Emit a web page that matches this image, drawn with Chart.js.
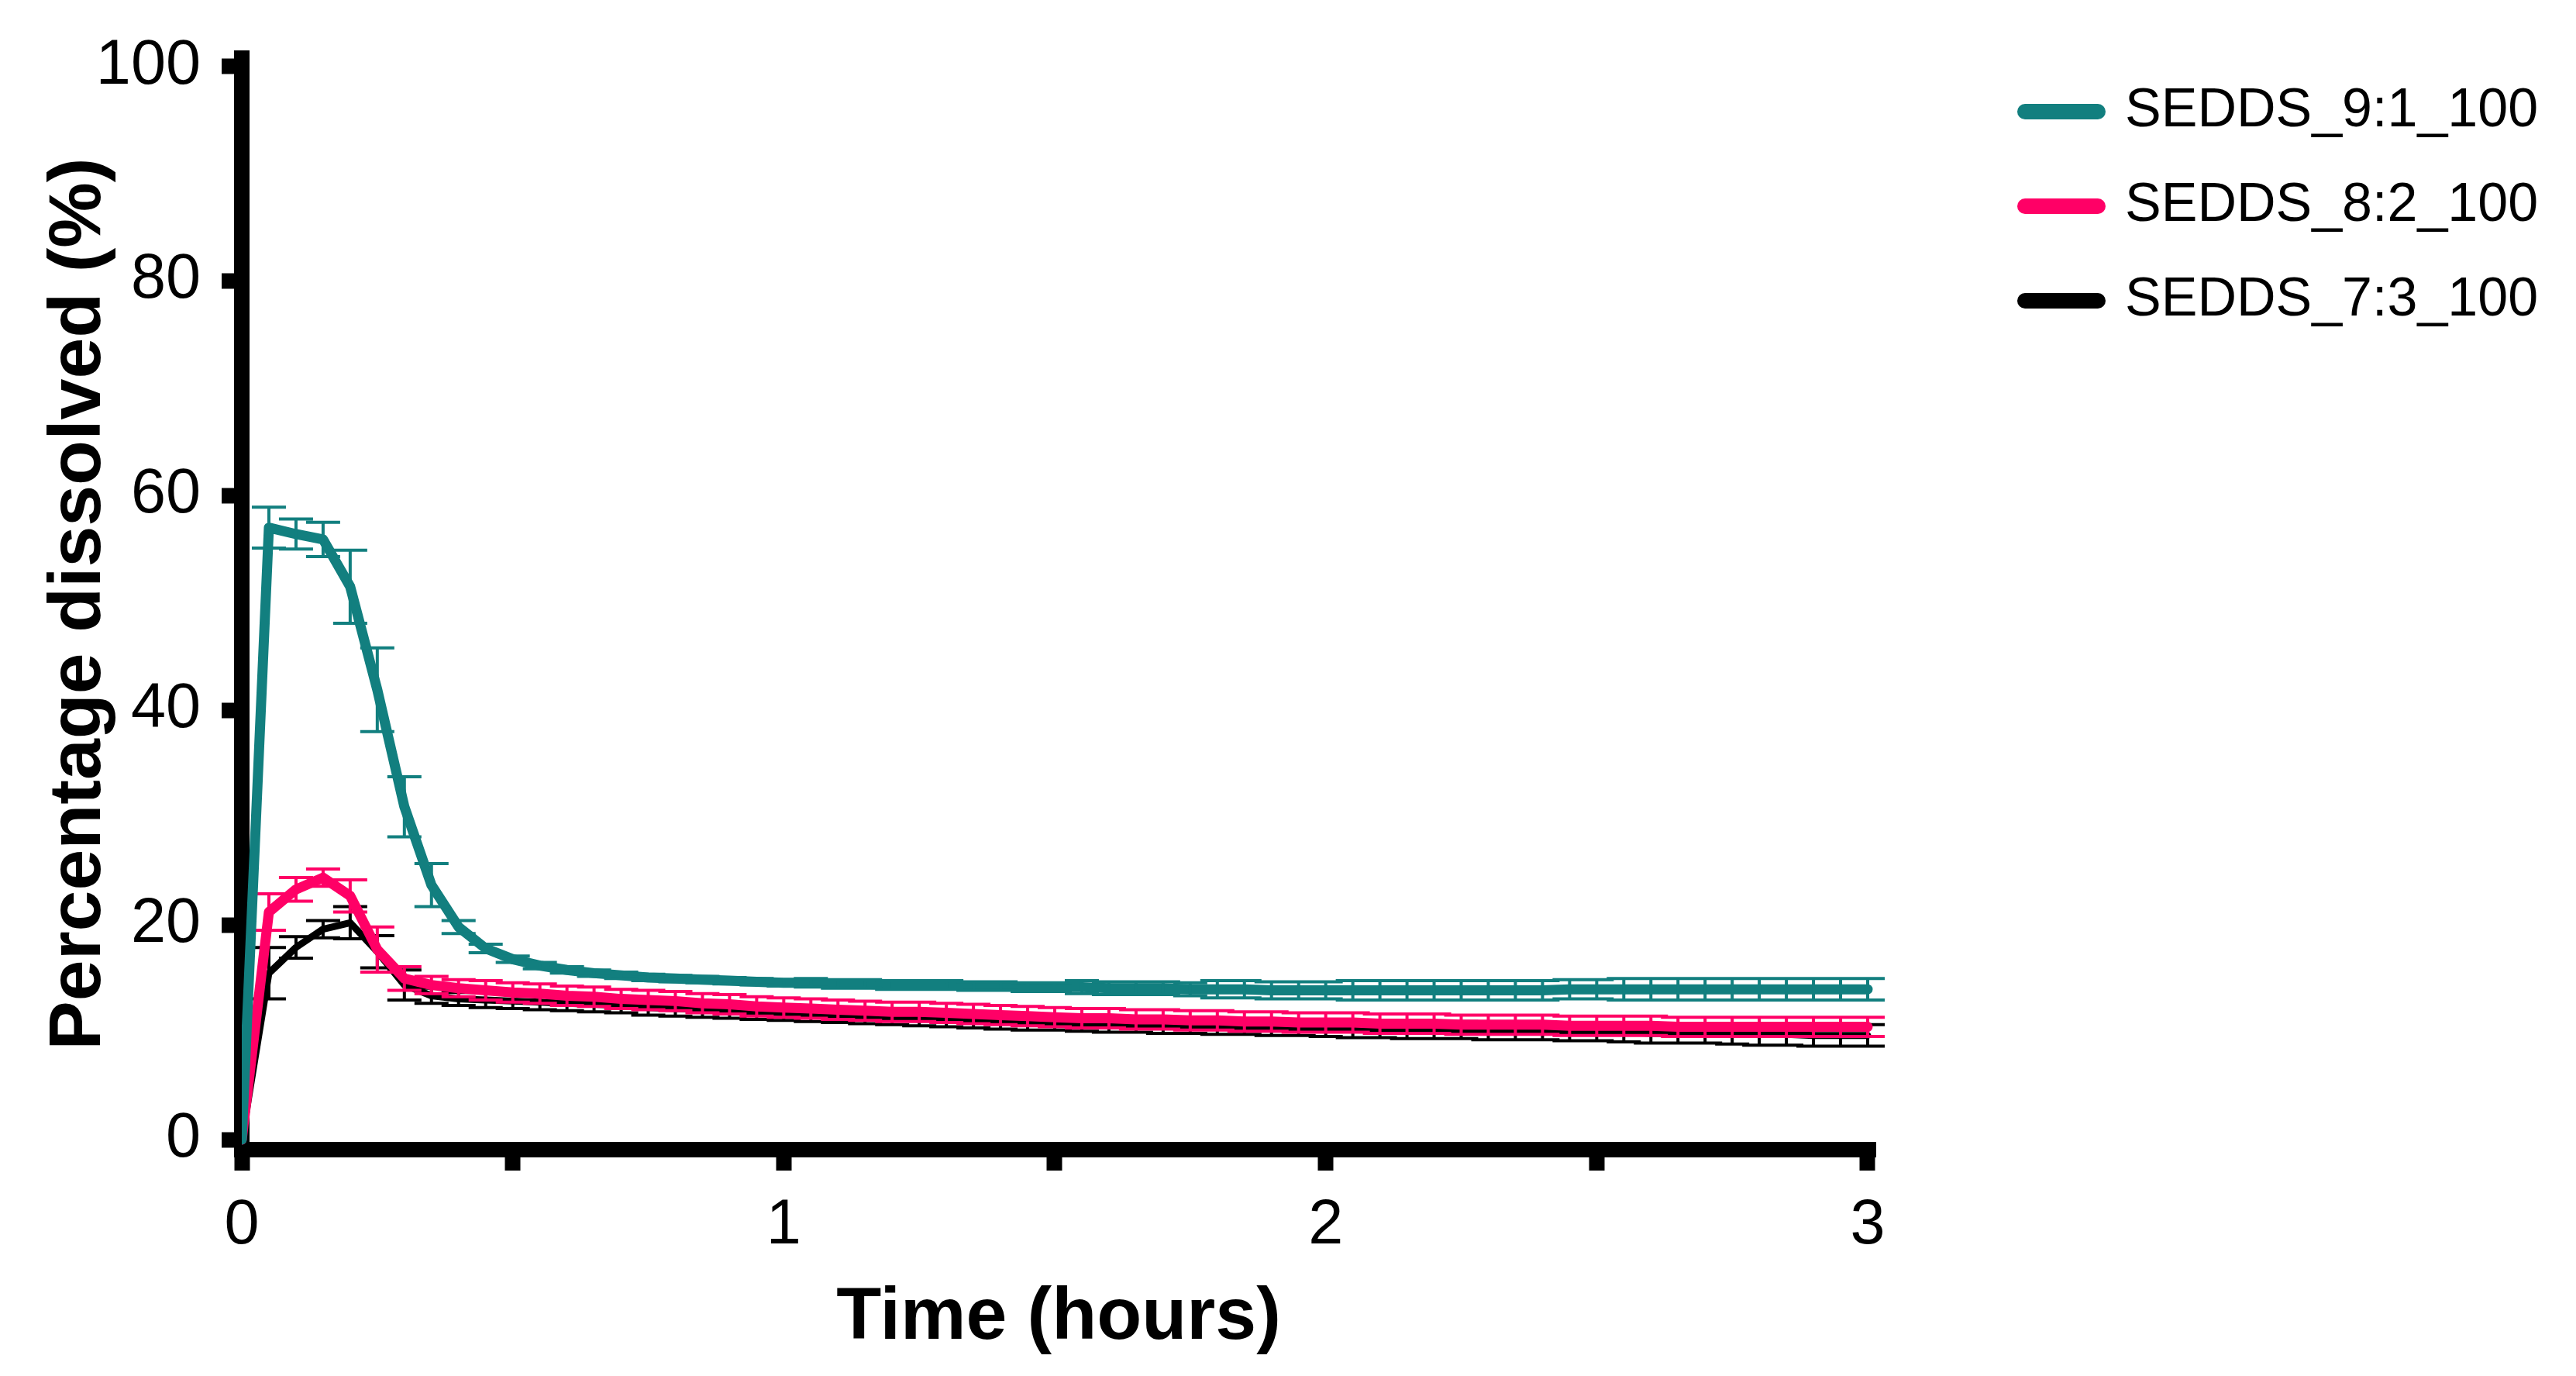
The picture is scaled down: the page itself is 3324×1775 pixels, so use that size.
<!DOCTYPE html>
<html><head><meta charset="utf-8">
<script src="https://cdn.jsdelivr.net/npm/chart.js@4.4.1/dist/chart.umd.min.js"></script>
<style>html,body{margin:0;padding:0;background:#fff;overflow:hidden}canvas{display:block}</style>
</head><body>
<canvas id="c" width="3324" height="1775"></canvas>
<script>
// ---- data ----
const timeHours = [0,0.05,0.1,0.15,0.2,0.25,0.3,0.35,0.4,0.45,0.5,0.55,0.6,0.65,0.7,0.75,0.8,0.85,0.9,0.95,
  1,1.05,1.1,1.15,1.2,1.25,1.3,1.35,1.4,1.45,1.5,1.55,1.6,1.65,1.7,1.75,1.8,1.85,1.9,1.95,
  2,2.05,2.1,2.15,2.2,2.25,2.3,2.35,2.4,2.45,2.5,2.55,2.6,2.65,2.7,2.75,2.8,2.85,2.9,2.95,3];
const seriesNames = ['SEDDS_9:1_100','SEDDS_8:2_100','SEDDS_7:3_100'];
const seriesColors = ['#127F7F','#FF0066','#000000'];
const sedds91 = [0,57.0,56.4,55.9,51.5,41.9,31.0,23.7,19.8,17.8,16.8,16.2,15.8,15.5,15.3,15.1,15.0,14.9,14.8,14.7,
  14.6,14.6,14.5,14.5,14.4,14.4,14.4,14.3,14.3,14.2,14.2,14.2,14.1,14.1,14.1,14.0,14.0,14.0,13.9,13.9,
  13.9,13.9,13.9,13.9,13.9,13.9,13.9,13.9,13.9,14.0,14.0,14.0,14.0,14.0,14.0,14.0,14.0,14.0,14.0,14.0,14.0];
const sedds91Sem = [0,1.9,1.4,1.6,3.4,3.9,2.8,2.0,0.6,0.4,0.3,0.3,0.3,0.3,0.3,0.3,0.3,0.3,0.3,0.3,
  0.3,0.4,0.4,0.4,0.4,0.4,0.4,0.4,0.4,0.4,0.4,0.6,0.6,0.6,0.6,0.6,0.8,0.8,0.8,0.8,
  0.8,0.9,0.9,0.9,0.9,0.9,0.9,0.9,0.9,0.9,0.9,1.0,1.0,1.0,1.0,1.0,1.0,1.0,1.0,1.0,1.0];
const sedds82 = [0,21.2,23.3,24.4,22.7,17.7,15.0,14.4,14.1,13.9,13.7,13.6,13.4,13.3,13.1,13.0,12.9,12.7,12.6,12.4,
  12.3,12.2,12.1,12.0,11.9,11.9,11.8,11.7,11.6,11.5,11.4,11.3,11.3,11.2,11.2,11.1,11.1,11.0,11.0,10.9,
  10.9,10.9,10.8,10.8,10.8,10.7,10.7,10.7,10.7,10.6,10.6,10.6,10.6,10.5,10.5,10.5,10.5,10.5,10.5,10.5,10.5];
const sedds82Sem = [0,1.7,1.1,0.8,1.5,2.1,1.1,0.8,0.8,0.9,0.9,0.9,0.9,0.9,0.9,0.9,0.9,0.9,0.9,0.9,
  0.9,0.9,0.9,0.9,0.9,0.9,0.9,0.9,0.9,0.9,0.9,0.9,0.9,0.9,0.9,0.9,0.9,0.9,0.9,0.9,
  0.9,0.9,0.9,0.9,0.9,0.9,0.9,0.9,0.9,0.9,0.9,0.9,0.9,0.9,0.9,0.9,0.9,0.9,0.9,0.9,0.9];
const sedds73 = [0,15.5,17.9,19.6,20.2,17.5,14.4,13.4,13.1,13.0,12.9,12.8,12.7,12.6,12.5,12.3,12.2,12.1,12.0,11.9,
  11.8,11.7,11.6,11.5,11.4,11.3,11.2,11.1,11.0,10.9,10.9,10.8,10.7,10.7,10.6,10.6,10.5,10.5,10.4,10.4,
  10.3,10.3,10.3,10.2,10.2,10.2,10.1,10.1,10.1,10.0,10.0,10.0,9.9,9.9,9.9,9.8,9.8,9.8,9.7,9.7,9.7];
const sedds73Sem = [0,2.4,1.0,0.8,1.5,1.5,1.4,0.7,0.6,0.7,0.7,0.7,0.7,0.7,0.7,0.7,0.7,0.7,0.7,0.7,
  0.7,0.7,0.7,0.7,0.7,0.7,0.7,0.7,0.7,0.7,0.7,0.7,0.7,0.7,0.7,0.7,0.7,0.7,0.7,0.7,
  0.7,0.8,0.8,0.8,0.8,0.8,0.8,0.8,0.8,0.8,0.8,0.9,0.9,0.9,0.9,0.9,1.0,1.0,1.0,1.0,1.0];
const yTickValues = [0,20,40,60,80,100];
const xTickValues = [0,0.5,1,1.5,2,2.5,3];
const xTickLabels = ['0','','1','','2','','3'];
const yTitle = 'Percentage dissolved (%)';
const xTitle = 'Time (hours)';

// ---- layout constants ----
const FONT = "'Liberation Sans', Arial, sans-serif";
const LEG_SIZE = 70, LEG_PAD = 52, LEG_BOX = 94;
const AREA_LEFT = 312, AREA_RIGHT = 2420, AREA_BOTTOM = 1483, W = 3324, H = 1775;
const GAP = 141;
const mctx = document.createElement('canvas').getContext('2d');
mctx.font = LEG_SIZE + 'px ' + FONT;
const textW = Math.max(...seriesNames.map(s => mctx.measureText(s).width));
const legendW = LEG_PAD + LEG_BOX + LEG_SIZE / 2 + textW + 10;
const padRight = W - AREA_RIGHT - GAP - legendW;

const sems = [sedds91Sem, sedds82Sem, sedds73Sem];
const values = [sedds91, sedds82, sedds73];
const widths = [13, 13, 9];

const errorBars = {
  id: 'errorBars',
  afterDatasetDraw(chart, args) {
    const i = args.index;
    const sem = sems[i], vals = values[i];
    const xs = chart.scales.x, ys = chart.scales.y, ctx = chart.ctx;
    ctx.save();
    ctx.strokeStyle = seriesColors[i];
    ctx.lineWidth = 4;
    ctx.lineCap = 'butt';
    ctx.beginPath();
    for (let k = 0; k < vals.length; k++) {
      const e = sem[k];
      if (!e) continue;
      const x = xs.getPixelForValue(timeHours[k]);
      const y1 = ys.getPixelForValue(vals[k] + e), y2 = ys.getPixelForValue(vals[k] - e);
      ctx.moveTo(x, y1); ctx.lineTo(x, y2);
      ctx.moveTo(x - 22, y1); ctx.lineTo(x + 22, y1);
      ctx.moveTo(x - 22, y2); ctx.lineTo(x + 22, y2);
    }
    ctx.stroke();
    ctx.restore();
  }
};

const datasets = seriesNames.map((name, i) => ({
  label: name,
  data: timeHours.map((t, k) => ({x: t, y: values[i][k]})),
  borderColor: seriesColors[i],
  backgroundColor: seriesColors[i],
  borderWidth: widths[i],
  pointRadius: 0,
  borderCapStyle: 'round',
  borderJoinStyle: 'round',
  tension: 0,
  fill: false,
  yAxisID: 'y'
}));

new Chart(document.getElementById('c'), {
  type: 'line',
  data: {datasets},
  plugins: [errorBars],
  options: {
    responsive: false,
    devicePixelRatio: 1,
    animation: false,
    events: [],
    layout: {padding: {left: 0, top: 57, right: padRight, bottom: 0}},
    plugins: {
      tooltip: {enabled: false},
      legend: {
        position: 'right', align: 'start', maxWidth: 2000,
        labels: {
          usePointStyle: true, pointStyle: 'line', pointStyleWidth: LEG_BOX,
          padding: LEG_PAD, color: '#000', font: {family: FONT, size: LEG_SIZE},
          generateLabels(chart) {
            return chart.data.datasets.map((ds, i) => ({
              text: ds.label, fillStyle: ds.borderColor, strokeStyle: ds.borderColor,
              lineWidth: 20, lineCap: 'round', pointStyle: 'line', hidden: false, datasetIndex: i, fontColor: '#000'
            }));
          }
        }
      }
    },
    scales: {
      x: {
        type: 'linear', position: 'bottom', min: 0, max: 3 + 10 / 699.3,
        afterBuildTicks(s) { s.ticks = xTickValues.map(v => ({value: v})); },
        afterFit(s) { s.height = H - AREA_BOTTOM; },
        grid: {drawOnChartArea: false, drawTicks: true, tickLength: 27, tickWidth: 20, tickColor: '#000'},
        border: {display: true, width: 20, color: '#000'},
        ticks: {
          autoSkip: false, maxRotation: 0, minRotation: 0, padding: 23, color: '#000',
          font: {family: FONT, size: 81, lineHeight: 1.2},
          callback(v, idx) { return xTickLabels[idx]; }
        },
        title: {display: true, text: xTitle, color: '#000', font: {family: FONT, size: 95, weight: 'bold', lineHeight: 1.2}, padding: {top: 0, bottom: 17}}
      },
      y: {
        type: 'linear', position: 'left', min: -0.937, max: 100.72,
        afterBuildTicks(s) { s.ticks = yTickValues.map(v => ({value: v})); },
        afterFit(s) { s.width = AREA_LEFT; },
        grid: {drawOnChartArea: false, drawTicks: true, tickLength: 26, tickWidth: 20, tickColor: '#000'},
        border: {display: true, width: 20, color: '#000'},
        ticks: {
          padding: 27, color: '#000', font: {family: FONT, size: 81, lineHeight: 1.19},
          callback(v) { return String(v); }
        },
        title: {display: true, text: yTitle, color: '#000', font: {family: FONT, size: 95, weight: 'bold', lineHeight: 1.2}, padding: {top: 46, bottom: 0}}
      },
      gap: {
        type: 'linear', position: 'right', display: true,
        afterFit(s) { s.width = GAP; },
        grid: {display: false, drawOnChartArea: false, drawTicks: false},
        border: {display: false},
        ticks: {display: false},
        title: {display: false}
      }
    }
  }
});
</script>
</body></html>
